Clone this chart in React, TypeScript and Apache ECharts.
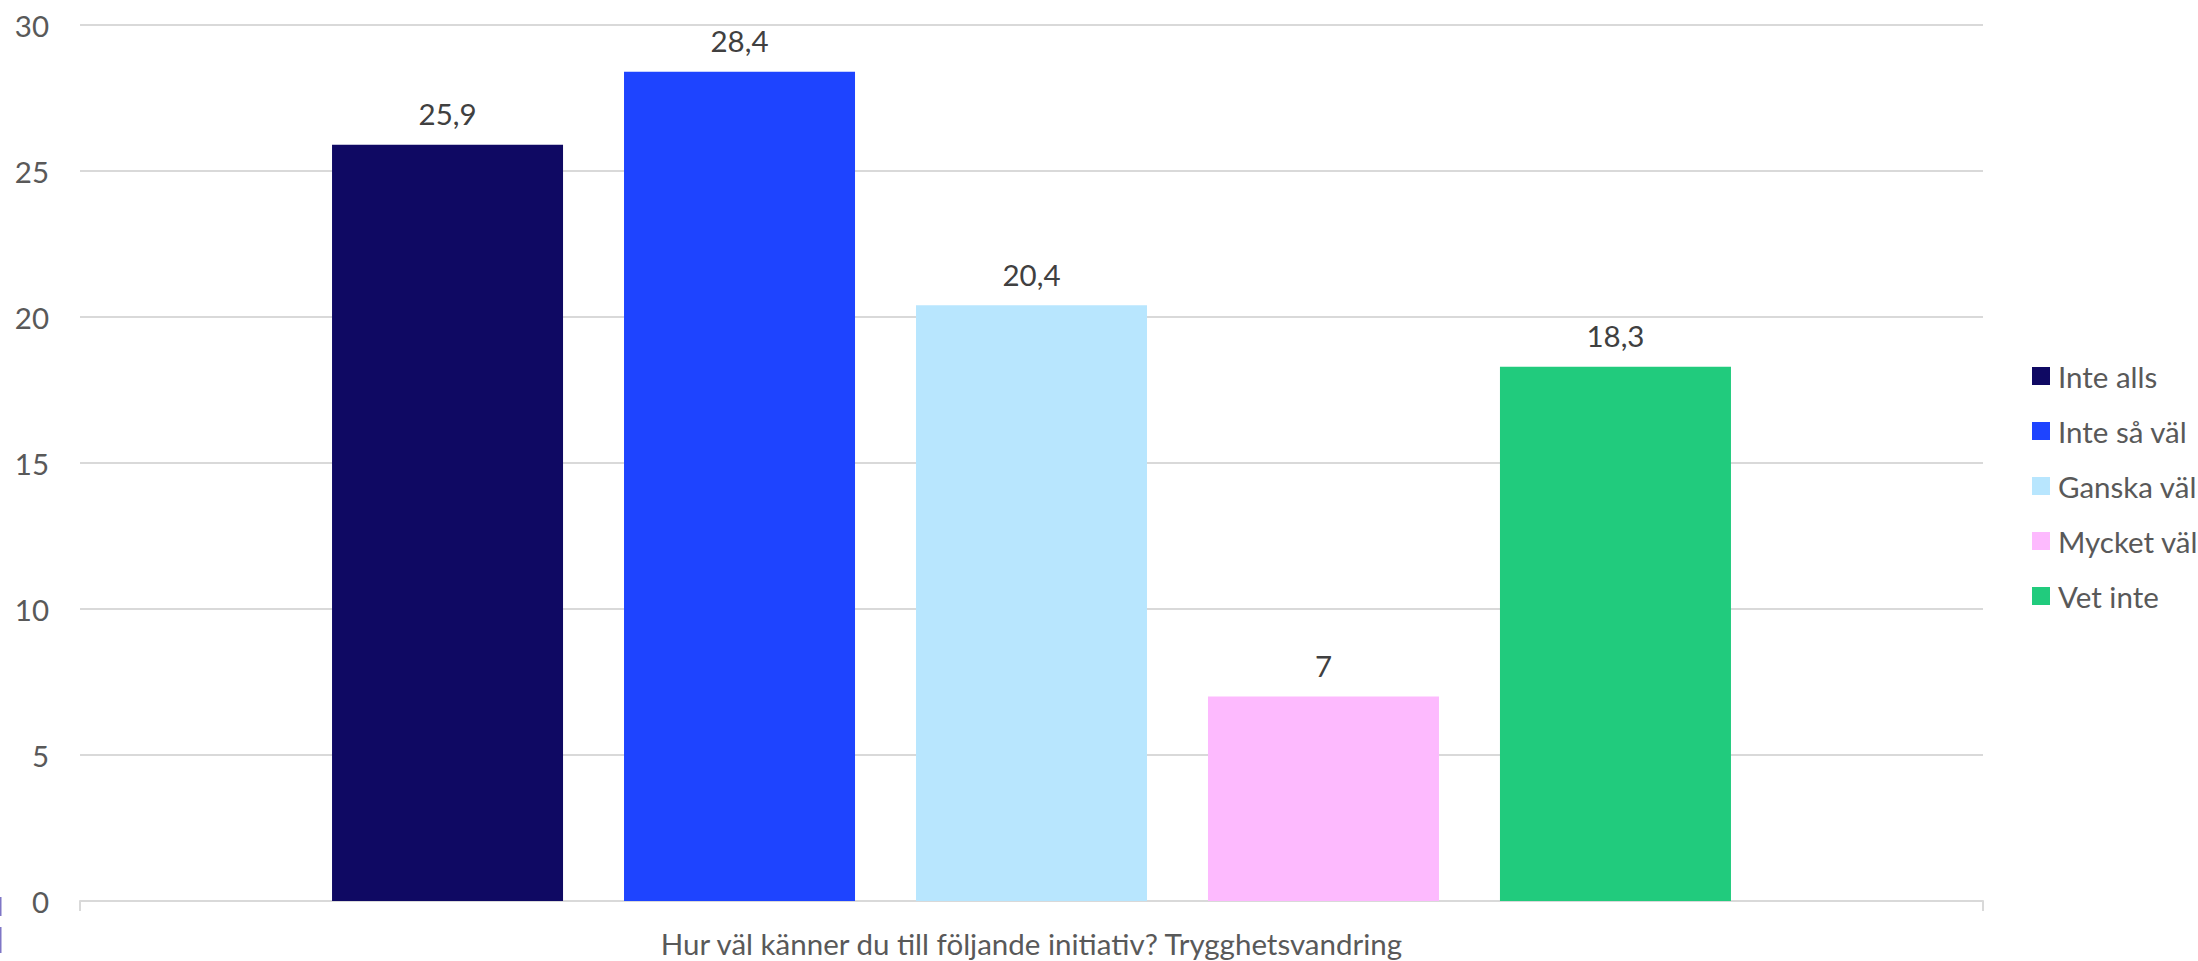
import React, { useEffect, useRef } from "react";
import * as echarts from "echarts";

const categories = ["Hur väl känner du till följande initiativ? Trygghetsvandring"];
const seriesNames = ["Inte alls", "Inte så väl", "Ganska väl", "Mycket väl", "Vet inte"];
const seriesValues = [25.9, 28.4, 20.4, 7, 18.3];
const seriesColors = ["#0F0963", "#1E44FF", "#B8E6FE", "#FDBAFE", "#21CB7D"];
const yTicks = { min: 0, max: 30, interval: 5 };

const FONT = "Lato, 'Open Sans', sans-serif";
const FS = 29.5;

export default function App() {
  const ref = useRef<HTMLDivElement>(null);
  useEffect(() => {
    if (!ref.current) return;
    const chart = echarts.init(ref.current, undefined, { renderer: "svg" });
    chart.setOption({
      animation: false,
      backgroundColor: "#ffffff",
      textStyle: { fontFamily: FONT },
      grid: { left: 80, right: 215, top: 25, bottom: 60, containLabel: false },
      legend: {
        orient: "vertical",
        left: 2027,
        top: 356,
        icon: "rect",
        itemWidth: 18,
        itemHeight: 18,
        itemGap: 25,
        selectedMode: false,
        data: seriesNames,
        textStyle: {
          fontFamily: FONT,
          fontSize: FS,
          color: "#595959",
          lineHeight: 30,
          padding: [0, 0, 0, 3],
        },
      },
      xAxis: {
        type: "category",
        data: categories,
        axisLine: { show: true, lineStyle: { color: "#d9d9d9", width: 2 } },
        axisTick: { show: true, length: 10, lineStyle: { color: "#d9d9d9", width: 2 } },
        axisLabel: {
          fontFamily: FONT,
          fontSize: FS,
          color: "#595959",
          margin: 27,
          lineHeight: 30,
        },
      },
      yAxis: {
        type: "value",
        min: yTicks.min,
        max: yTicks.max,
        interval: yTicks.interval,
        axisLine: { show: false },
        axisTick: { show: false },
        splitLine: { lineStyle: { color: "#d9d9d9", width: 2 } },
        axisLabel: {
          fontFamily: FONT,
          fontSize: FS,
          color: "#595959",
          margin: 31,
        },
      },
      graphic: [
        { type: "rect", shape: { x: 0, y: 897, width: 1.5, height: 19 }, style: { fill: "#7F76C6" } },
        { type: "rect", shape: { x: 0, y: 927, width: 1.5, height: 26 }, style: { fill: "#7F76C6" } },
      ],
      series: seriesNames.map((name, i) => ({
        name,
        type: "bar",
        data: [seriesValues[i]],
        barWidth: 231,
        barGap: "26.4%",
        itemStyle: { color: seriesColors[i] },
        label: {
          show: true,
          position: "top",
          distance: 16,
          fontFamily: FONT,
          fontSize: FS,
          color: "#404040",
          formatter: (p: any) => String(p.value).replace(".", ","),
        },
      })),
    });
    return () => chart.dispose();
  }, []);
  return (
    <div
      ref={ref}
      style={{ position: "absolute", left: 0, top: 0, width: 2198, height: 961 }}
    />
  );
}
